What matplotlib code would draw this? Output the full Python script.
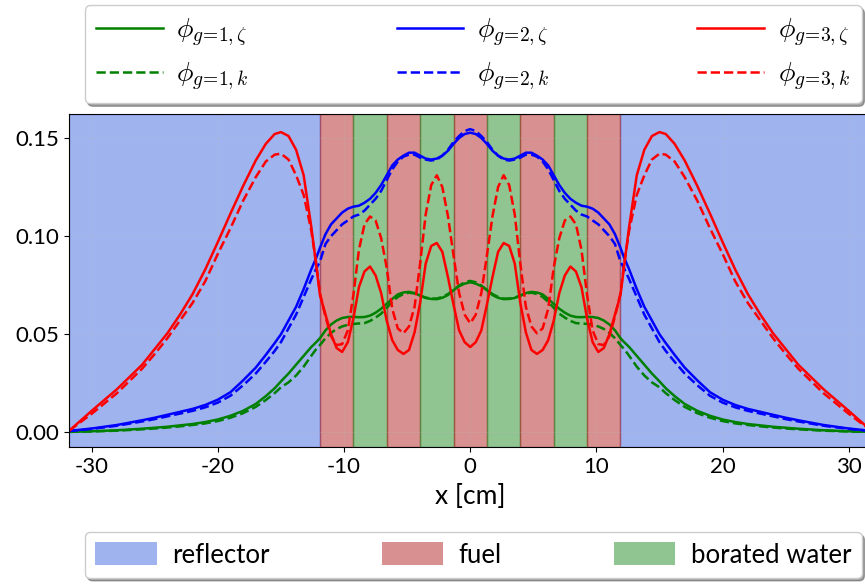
import numpy as np
import matplotlib
matplotlib.use('Agg')
import matplotlib.pyplot as plt
from matplotlib.patches import Patch

plt.rcParams['font.family'] = ['Lato', 'DejaVu Sans']
plt.rcParams['mathtext.fontset'] = 'cm'
plt.rcParams['axes.unicode_minus'] = False

# region bounds [cm]
x_min, x_max = -31.76, 31.76
core_edges = [-11.91, -9.26, -6.62, -3.97, -1.32, 1.32, 3.97, 6.62, 9.26, 11.91]
core_kinds = ['fuel', 'water', 'fuel', 'water', 'fuel', 'water', 'fuel', 'water', 'fuel']

# sample positions [cm]
x = [-31.76, -30.0, -28.0, -26.0, -25.0, -24.0, -23.0, -22.0, -21.0, -20.0, -19.0, -18.0,
     -17.0, -16.2, -15.5, -15.0, -14.4, -13.8, -13.2, -12.6, -12.2, -11.91, -11.47, -11.03,
     -10.59, -10.15, -9.70, -9.26, -8.82, -8.38, -7.94, -7.50, -7.06, -6.62, -6.18, -5.74,
     -5.29, -4.85, -4.41, -3.97, -3.53, -3.09, -2.65, -2.21, -1.76, -1.32, -0.88, -0.44,
     0.0,
     0.44, 0.88, 1.32, 1.76, 2.21, 2.65, 3.09, 3.53, 3.97, 4.41, 4.85, 5.29, 5.74, 6.18,
     6.62, 7.06, 7.50, 7.94, 8.38, 8.82, 9.26, 9.70, 10.15, 10.59, 11.03, 11.47, 11.91,
     12.2, 12.6, 13.2, 13.8, 14.4, 15.0, 15.5, 16.2, 17.0, 18.0, 19.0, 20.0, 21.0, 22.0,
     23.0, 24.0, 25.0, 26.0, 28.0, 30.0, 31.76]

phi1_zeta = [0.0003, 0.0006, 0.0011, 0.0019, 0.0024, 0.0029, 0.0036, 0.0043, 0.0053, 0.0066,
             0.0085, 0.011, 0.0145, 0.0185, 0.0225, 0.026, 0.030, 0.0345, 0.039, 0.0435,
             0.046, 0.048, 0.052, 0.055, 0.057, 0.0583, 0.0588, 0.0589, 0.0587, 0.0588,
             0.0595, 0.061, 0.063, 0.0655, 0.068, 0.0703, 0.0713, 0.0716, 0.071, 0.0697,
             0.0685, 0.068, 0.0679, 0.0686, 0.070, 0.0725, 0.0745, 0.0758,
             0.0765,
             0.0758, 0.0745, 0.0725, 0.070, 0.0686, 0.0679, 0.068, 0.0685, 0.0697, 0.071,
             0.0716, 0.0713, 0.0703, 0.068, 0.0655, 0.063, 0.061, 0.0595, 0.0588, 0.0587,
             0.0589, 0.0588, 0.0583, 0.057, 0.055, 0.052, 0.048, 0.046, 0.0435, 0.039, 0.0345,
             0.030, 0.026, 0.0225, 0.0185, 0.0145, 0.011, 0.0085, 0.0066, 0.0053, 0.0043,
             0.0036, 0.0029, 0.0024, 0.0019, 0.0011, 0.0006, 0.0003]
phi1_k = [0.0003, 0.0005, 0.0009, 0.0016, 0.0020, 0.0025, 0.0031, 0.0038, 0.0046, 0.0058,
          0.0075, 0.0098, 0.013, 0.0165, 0.020, 0.023, 0.0255, 0.029, 0.0335, 0.039, 0.0425,
          0.0445, 0.048, 0.0507, 0.0527, 0.054, 0.0548, 0.0553, 0.0555, 0.0557, 0.0568,
          0.0585, 0.0605, 0.0635, 0.0665, 0.069, 0.0705, 0.0712, 0.0708, 0.0697, 0.0687,
          0.0682, 0.0682, 0.069, 0.0705, 0.0727, 0.0748, 0.0765,
          0.0772,
          0.0765, 0.0748, 0.0727, 0.0705, 0.069, 0.0682, 0.0682, 0.0687, 0.0697, 0.0708,
          0.0712, 0.0705, 0.069, 0.0665, 0.0635, 0.0605, 0.0585, 0.0568, 0.0557, 0.0555,
          0.0553, 0.0548, 0.054, 0.0527, 0.0507, 0.048, 0.0445, 0.0425, 0.039, 0.0335, 0.029,
          0.0255, 0.023, 0.020, 0.0165, 0.013, 0.0098, 0.0075, 0.0058, 0.0046, 0.0038,
          0.0031, 0.0025, 0.0020, 0.0016, 0.0009, 0.0005, 0.0003]

phi2_zeta = [0.0008, 0.002, 0.0038, 0.0062, 0.0075, 0.009, 0.0105, 0.012, 0.014, 0.0167,
             0.0205, 0.0265, 0.033, 0.0395, 0.0455, 0.050, 0.057, 0.064, 0.073, 0.083, 0.089,
             0.094, 0.101, 0.106, 0.109, 0.112, 0.114, 0.115, 0.1155, 0.117, 0.119, 0.122,
             0.126, 0.131, 0.136, 0.139, 0.141, 0.1425, 0.1425, 0.141, 0.1395, 0.139, 0.1395,
             0.141, 0.1435, 0.147, 0.150, 0.152,
             0.1527,
             0.152, 0.150, 0.147, 0.1435, 0.141, 0.1395, 0.139, 0.1395, 0.141, 0.1425,
             0.1425, 0.141, 0.139, 0.136, 0.131, 0.126, 0.122, 0.119, 0.117, 0.1155, 0.115,
             0.114, 0.112, 0.109, 0.106, 0.101, 0.094, 0.089, 0.083, 0.073, 0.064, 0.057,
             0.050, 0.0455, 0.0395, 0.033, 0.0265, 0.0205, 0.0167, 0.014, 0.012, 0.0105,
             0.009, 0.0075, 0.0062, 0.0038, 0.002, 0.0008]
phi2_k = [0.0007, 0.0018, 0.0034, 0.0056, 0.0068, 0.0082, 0.0096, 0.011, 0.0128, 0.0152,
          0.0187, 0.024, 0.030, 0.036, 0.0415, 0.046, 0.053, 0.060, 0.069, 0.078, 0.0835,
          0.087, 0.096, 0.100, 0.103, 0.106, 0.108, 0.110, 0.111, 0.113, 0.116, 0.119,
          0.123, 0.1285, 0.134, 0.138, 0.1405, 0.1415, 0.1415, 0.140, 0.139, 0.1385, 0.139,
          0.141, 0.144, 0.148, 0.151, 0.1535,
          0.1545,
          0.1535, 0.151, 0.148, 0.144, 0.141, 0.139, 0.1385, 0.139, 0.140, 0.1415, 0.1415,
          0.1405, 0.138, 0.134, 0.1285, 0.123, 0.119, 0.116, 0.113, 0.111, 0.110, 0.108,
          0.106, 0.103, 0.100, 0.096, 0.087, 0.0835, 0.078, 0.069, 0.060, 0.053, 0.046,
          0.0415, 0.036, 0.030, 0.024, 0.0187, 0.0152, 0.0128, 0.011, 0.0096, 0.0082,
          0.0068, 0.0056, 0.0034, 0.0018, 0.0007]

phi3_zeta = [0.001, 0.011, 0.022, 0.0345, 0.0425, 0.0505, 0.060, 0.0705, 0.083, 0.097,
             0.1115, 0.1255, 0.1385, 0.147, 0.152, 0.153, 0.151, 0.144, 0.131, 0.105, 0.085,
             0.070, 0.060, 0.050, 0.043, 0.041, 0.046, 0.058, 0.074, 0.082, 0.0845, 0.080,
             0.071, 0.057, 0.047, 0.042, 0.040, 0.042, 0.051, 0.066, 0.086, 0.095, 0.0965,
             0.092, 0.079, 0.065, 0.052, 0.046,
             0.0435,
             0.046, 0.052, 0.065, 0.079, 0.092, 0.0965, 0.095, 0.086, 0.066, 0.051, 0.042,
             0.040, 0.042, 0.047, 0.057, 0.071, 0.080, 0.0845, 0.082, 0.074, 0.058, 0.046,
             0.041, 0.043, 0.050, 0.060, 0.070, 0.085, 0.105, 0.131, 0.144, 0.151, 0.153,
             0.152, 0.147, 0.1385, 0.1255, 0.1115, 0.097, 0.083, 0.0705, 0.060, 0.0505,
             0.0425, 0.0345, 0.022, 0.011, 0.001]
phi3_k = [0.001, 0.0095, 0.020, 0.0325, 0.040, 0.048, 0.057, 0.066, 0.077, 0.091, 0.104,
          0.118, 0.130, 0.138, 0.1415, 0.142, 0.139, 0.131, 0.121, 0.103, 0.086, 0.071,
          0.059, 0.049, 0.0445, 0.045, 0.052, 0.070, 0.093, 0.106, 0.110, 0.108, 0.099,
          0.084, 0.063, 0.053, 0.0505, 0.054, 0.064, 0.086, 0.111, 0.126, 0.131, 0.125,
          0.110, 0.090, 0.071, 0.060,
          0.0556,
          0.060, 0.071, 0.090, 0.110, 0.125, 0.131, 0.126, 0.111, 0.086, 0.064, 0.054,
          0.0505, 0.053, 0.063, 0.084, 0.099, 0.108, 0.110, 0.106, 0.093, 0.070, 0.052,
          0.045, 0.0445, 0.049, 0.059, 0.071, 0.086, 0.103, 0.121, 0.131, 0.139, 0.142,
          0.1415, 0.138, 0.130, 0.118, 0.104, 0.091, 0.077, 0.066, 0.057, 0.048, 0.040,
          0.0325, 0.020, 0.0095, 0.001]

x = np.array(x)
region_colors = {'reflector': 'royalblue', 'fuel': 'firebrick', 'water': 'forestgreen'}

fig = plt.figure(figsize=(8.65, 5.84), dpi=100)
ax = fig.add_axes([0.0803, 0.2346, 0.9266, 0.5702])

# material regions
ax.axvspan(x_min, core_edges[0], color=region_colors['reflector'], alpha=0.5)
ax.axvspan(core_edges[-1], x_max, color=region_colors['reflector'], alpha=0.5)
for i, kind in enumerate(core_kinds):
    ax.axvspan(core_edges[i], core_edges[i + 1], color=region_colors[kind], alpha=0.5)

ax.plot(x, phi1_zeta, color='green', lw=1.8, label=r'$\phi_{g\!=\!1,\zeta}$')
ax.plot(x, phi1_k, color='green', lw=1.8, ls='--', label=r'$\phi_{g\!=\!1,k}$')
ax.plot(x, phi2_zeta, color='blue', lw=1.8, label=r'$\phi_{g\!=\!2,\zeta}$')
ax.plot(x, phi2_k, color='blue', lw=1.8, ls='--', label=r'$\phi_{g\!=\!2,k}$')
ax.plot(x, phi3_zeta, color='red', lw=1.8, label=r'$\phi_{g\!=\!3,\zeta}$')
ax.plot(x, phi3_k, color='red', lw=1.8, ls='--', label=r'$\phi_{g\!=\!3,k}$')

ax.set_xlim(x_min, x_max)
ax.set_yticks([0.0, 0.05, 0.10, 0.15])
ax.set_yticklabels(['0.00', '0.05', '0.10', '0.15'])
ax.grid(True, color='#bbbbbb', alpha=0.2, lw=0.8)
ax.tick_params(labelsize=16)
ax.set_xlabel('x [cm]', fontsize=19, labelpad=5)
ax.spines['right'].set_visible(False)

fig.legend(*ax.get_legend_handles_labels(), loc='upper left',
           bbox_to_anchor=(0.098, 0.0, 0.898, 0.991), mode='expand', ncol=3,
           fontsize=20, handlelength=2.4, handletextpad=0.5, shadow=True, fancybox=True,
           borderaxespad=0, labelspacing=0.45, framealpha=1)

patches = [Patch(facecolor=region_colors['reflector'], alpha=0.5, label='reflector'),
           Patch(facecolor=region_colors['fuel'], alpha=0.5, label='fuel'),
           Patch(facecolor=region_colors['water'], alpha=0.5, label='borated water')]
fig.legend(handles=patches, loc='lower left',
           bbox_to_anchor=(0.098, 0.0103, 0.898, 0.9), mode='expand', ncol=3,
           fontsize=18.5, handlelength=2.4, handleheight=1.0, handletextpad=0.6,
           shadow=True, fancybox=True, borderaxespad=0, framealpha=1)

fig.savefig('out.png', dpi=100)
